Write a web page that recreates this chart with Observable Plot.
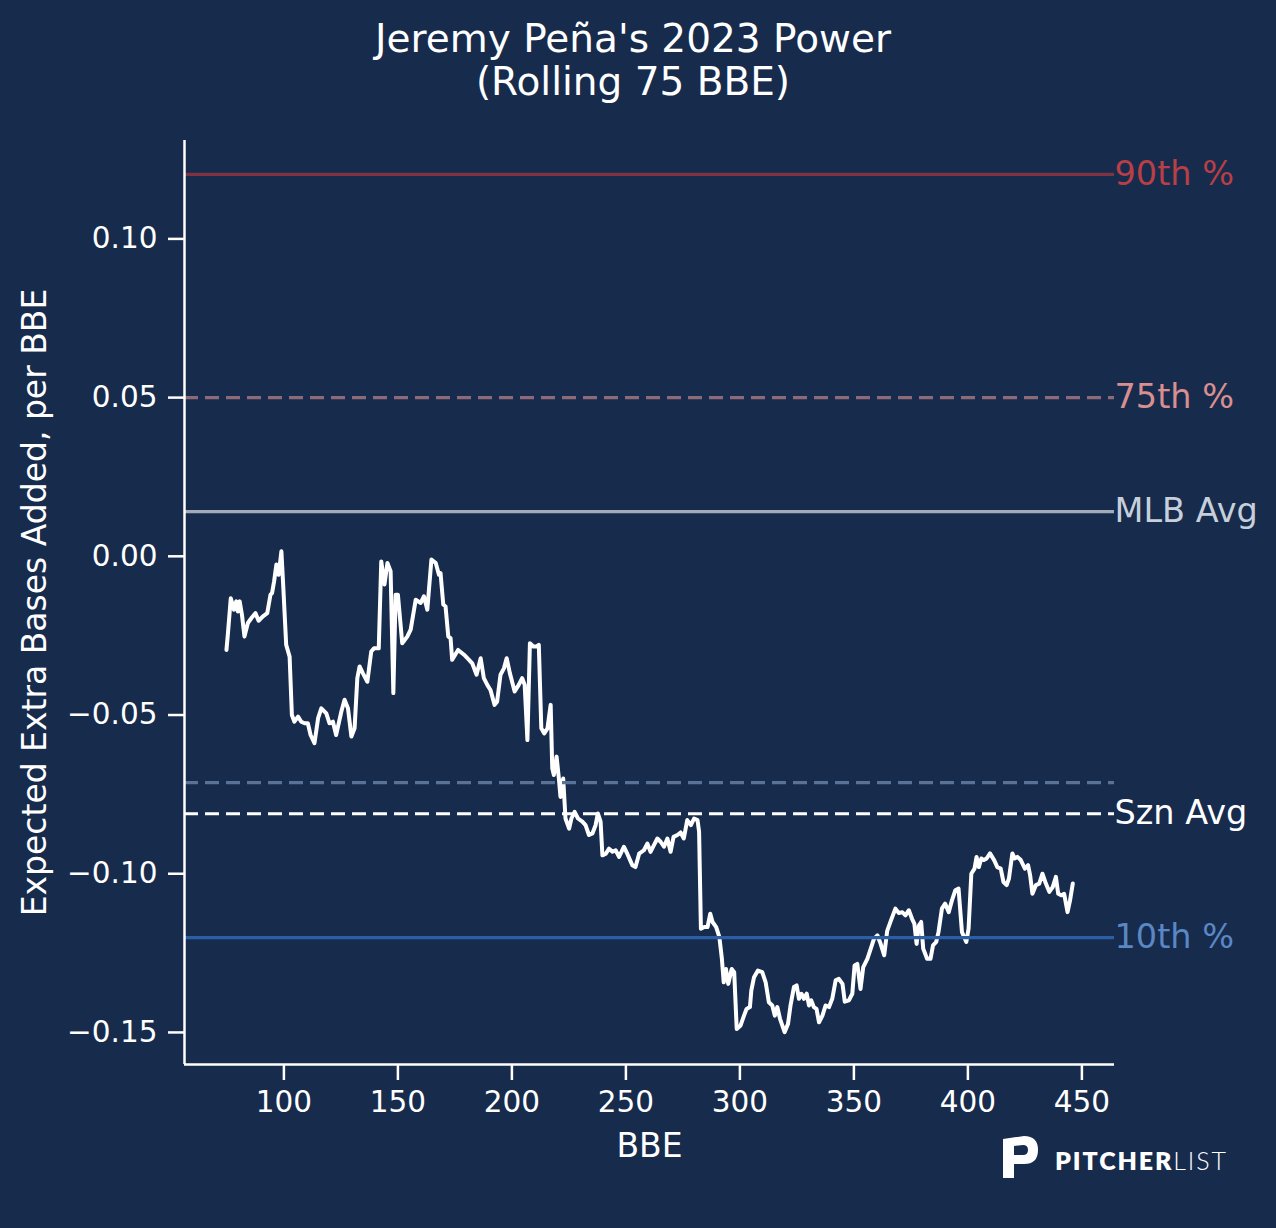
<!DOCTYPE html>
<html>
<head>
<meta charset="utf-8">
<script src="https://cdn.jsdelivr.net/npm/d3@7"></script>
<script src="https://cdn.jsdelivr.net/npm/@observablehq/plot@0.6"></script>
<style>
  html, body { margin: 0; padding: 0; background: #172B4D; }
  #wrap { position: relative; width: 1276px; height: 1228px; background: #172B4D; overflow: hidden; font-family: "DejaVu Sans", sans-serif; }
  #title { position: absolute; left: 0; top: 17px; width: 1266px; text-align: center; color: #ffffff; font-size: 39px; line-height: 43px; }
  #chart { position: absolute; left: 0; top: 0; }
  #logo { position: absolute; left: 1000px; top: 1134px; }
</style>
</head>
<body>
<div id="wrap">
  <div id="chart"></div>
  <div id="title">Jeremy Peña's 2023 Power<br>(Rolling 75 BBE)</div>
  <svg id="logo" width="240" height="50" viewBox="0 0 240 50">
    <path fill="#ffffff" fill-rule="evenodd" d="M3,5 L24,2 Q38,2 38,16 Q38,30 24,30 L14,30 L14,44 L3,44 Z M14,12 L23,11 Q28,11 28,16 Q28,21 23,21 L14,21 Z"/>
    <text x="55" y="36" fill="#ffffff" font-family="Lato, 'Open Sans', sans-serif" font-size="25" textLength="171" lengthAdjust="spacing"><tspan font-weight="800">PITCHER</tspan><tspan font-weight="300">LIST</tspan></text>
  </svg>
</div>
<script>
// ---- data ----
const bbe = [
  74.8, 75.4, 76.7, 78.1, 79.1, 79.8, 80.6, 81.6, 82.7, 84.2, 85.7, 87.5, 88.9, 90.8, 92.7, 94.1, 94.8, 95.7, 96.7, 97.7,
  98.9, 99.6, 101.0, 102.5, 103.5, 104.6, 106.2, 107.6, 109.1, 110.5, 111.7, 113.4, 115.0, 116.4, 118.6, 120.0, 121.5, 122.9, 125.2, 126.6,
  128.1, 129.6, 131.0, 132.2, 133.2, 134.6, 136.6, 138.3, 139.5, 141.6, 142.7, 144.1, 145.4, 146.8, 148.0, 149.0, 150.0, 151.9, 154.1, 155.6,
  157.8, 160.0, 161.4, 162.9, 164.7, 166.6, 168.0, 168.7, 169.9, 170.9, 172.1, 173.1, 173.8, 176.4, 179.0, 181.2, 182.6, 184.5, 186.3, 187.7,
  189.2, 190.6, 192.4, 193.5, 195.0, 196.5, 197.7, 199.1, 201.2, 203.0, 204.5, 205.6, 206.8, 207.9, 209.4, 210.8, 211.8, 212.9, 214.2, 215.6,
  217.0, 217.7, 218.4, 219.6, 220.6, 221.3, 222.5, 223.5, 225.1, 226.1, 227.5, 229.0, 230.9, 232.3, 233.8, 235.3, 236.7, 237.7, 238.9, 239.7,
  241.2, 242.6, 244.1, 245.5, 247.0, 249.1, 250.6, 252.8, 254.2, 255.8, 257.9, 259.4, 260.8, 262.3, 263.8, 265.3, 266.7, 268.2, 269.6, 270.9,
  272.6, 274.0, 275.4, 276.9, 278.5, 279.9, 281.4, 282.1, 282.9, 284.4, 285.8, 287.0, 288.0, 289.6, 291.0, 292.1, 292.9, 293.9, 294.9, 296.4,
  297.5, 298.6, 300.3, 301.8, 302.9, 304.4, 305.0, 306.2, 307.9, 309.8, 311.3, 312.7, 314.2, 315.3, 316.4, 317.6, 319.6, 321.1, 322.2, 323.7,
  324.9, 325.9, 327.0, 328.1, 329.3, 330.3, 331.3, 332.4, 333.6, 334.7, 336.2, 337.6, 339.1, 340.5, 342.0, 343.4, 345.0, 346.0, 347.8, 349.3,
  350.3, 351.5, 352.9, 354.1, 355.9, 357.4, 358.8, 360.3, 361.7, 363.3, 364.6, 366.1, 368.2, 369.7, 371.2, 372.6, 374.1, 375.5, 376.5, 377.5,
  378.5, 379.5, 380.4, 382.1, 383.6, 384.7, 386.1, 387.1, 388.6, 390.0, 391.6, 393.0, 394.5, 395.9, 397.4, 399.3, 400.3, 401.5, 402.9, 403.8,
  404.8, 405.9, 407.0, 408.2, 409.7, 411.5, 412.9, 414.4, 415.6, 417.0, 418.0, 419.5, 420.5, 421.7, 423.2, 425.0, 426.4, 427.3, 428.3, 429.8,
  431.3, 432.7, 434.2, 435.7, 437.2, 438.6, 439.6, 441.1, 442.2, 443.7, 444.8, 446.0
];
const xeba = [
  -0.0295, -0.0247, -0.0132, -0.0168, -0.0142, -0.0174, -0.0142, -0.0184, -0.0253, -0.0210, -0.0195, -0.0179, -0.0203, -0.0189, -0.0179, -0.0121, -0.0116, -0.0079, -0.0026, -0.0058,
  0.0016, -0.0079, -0.0279, -0.0316, -0.0500, -0.0521, -0.0505, -0.0521, -0.0526, -0.0526, -0.0563, -0.0589, -0.0510, -0.0479, -0.0495, -0.0526, -0.0521, -0.0563, -0.0489, -0.0452,
  -0.0479, -0.0568, -0.0542, -0.0384, -0.0347, -0.0368, -0.0395, -0.0300, -0.0290, -0.0290, -0.0016, -0.0089, -0.0021, -0.0047, -0.0431, -0.0121, -0.0121, -0.0274, -0.0253, -0.0231,
  -0.0137, -0.0147, -0.0126, -0.0168, -0.0010, -0.0021, -0.0058, -0.0053, -0.0152, -0.0158, -0.0253, -0.0258, -0.0326, -0.0295, -0.0310, -0.0326, -0.0337, -0.0373, -0.0321, -0.0384,
  -0.0405, -0.0421, -0.0468, -0.0458, -0.0373, -0.0353, -0.0321, -0.0368, -0.0426, -0.0405, -0.0384, -0.0405, -0.0579, -0.0274, -0.0284, -0.0284, -0.0279, -0.0542, -0.0558, -0.0542,
  -0.0468, -0.0668, -0.0689, -0.0631, -0.0700, -0.0758, -0.0700, -0.0826, -0.0858, -0.0826, -0.0805, -0.0826, -0.0836, -0.0847, -0.0878, -0.0873, -0.0847, -0.0810, -0.0836, -0.0942,
  -0.0937, -0.0921, -0.0931, -0.0926, -0.0947, -0.0915, -0.0937, -0.0973, -0.0979, -0.0937, -0.0926, -0.0905, -0.0931, -0.0910, -0.0889, -0.0900, -0.0915, -0.0889, -0.0931, -0.0884,
  -0.0878, -0.0870, -0.0889, -0.0831, -0.0847, -0.0826, -0.0831, -0.0868, -0.1173, -0.1168, -0.1168, -0.1126, -0.1152, -0.1168, -0.1200, -0.1268, -0.1342, -0.1300, -0.1347, -0.1300,
  -0.1310, -0.1489, -0.1478, -0.1447, -0.1426, -0.1420, -0.1368, -0.1326, -0.1305, -0.1310, -0.1342, -0.1405, -0.1415, -0.1447, -0.1420, -0.1457, -0.1499, -0.1473, -0.1415, -0.1357,
  -0.1352, -0.1394, -0.1378, -0.1394, -0.1378, -0.1415, -0.1399, -0.1420, -0.1426, -0.1468, -0.1447, -0.1415, -0.1420, -0.1394, -0.1336, -0.1331, -0.1347, -0.1403, -0.1399, -0.1378,
  -0.1289, -0.1284, -0.1363, -0.1294, -0.1268, -0.1236, -0.1205, -0.1194, -0.1220, -0.1257, -0.1180, -0.1150, -0.1110, -0.1124, -0.1121, -0.1131, -0.1115, -0.1142, -0.1157, -0.1221,
  -0.1163, -0.1152, -0.1236, -0.1268, -0.1268, -0.1226, -0.1215, -0.1184, -0.1110, -0.1094, -0.1121, -0.1084, -0.1052, -0.1047, -0.1184, -0.1215, -0.1173, -0.1000, -0.0984, -0.0947,
  -0.0979, -0.0952, -0.0957, -0.0952, -0.0936, -0.0957, -0.0979, -0.0984, -0.1026, -0.1036, -0.1015, -0.0936, -0.0952, -0.0947, -0.0957, -0.0984, -0.0973, -0.1005, -0.1063, -0.1036,
  -0.1031, -0.1000, -0.1031, -0.1057, -0.1042, -0.1010, -0.1063, -0.1068, -0.1063, -0.1121, -0.1084, -0.1031
];

const xTicks = [100, 150, 200, 250, 300, 350, 400, 450];
const yTicks = [0.10, 0.05, 0.00, -0.05, -0.10, -0.15];
const xDomain = [56.4, 464.3];
const yDomain = [-0.1601, 0.131];

const refLabels = ["90th %", "75th %", "MLB Avg", "", "Szn Avg", "10th %"];
const refValues = [0.1203, 0.0500, 0.0141, -0.0713, -0.0811, -0.1201];
const refLineColors = ["#7d3344", "#8c6a78", "#a3aab8", "#5a7296", "#ffffff", "#2c5ea6"];
const refTextColors = ["#b83f45", "#d98f8f", "#c7cfdb", "#5a7296", "#ffffff", "#5b87c5"];
const refDashed = [false, true, false, true, true, false];

const xLabel = "BBE";
const yLabel = "Expected Extra Bases Added, per BBE";

// ---- build ----
const series = bbe.map((b, i) => ({bbe: b, v: xeba[i]}));
const refs = refValues.map((v, i) => ({v, label: refLabels[i], line: refLineColors[i], text: refTextColors[i], dashed: refDashed[i]}));

const fmt = d3.format(".2f");

const marks = [
  Plot.line(series, {x: "bbe", y: "v", stroke: "#ffffff", strokeWidth: 4, strokeLinejoin: "round"}),
  ...refs.map(r => Plot.ruleY([r], {y: "v", stroke: r.line, strokeWidth: 3.2, strokeDasharray: r.dashed ? "14,7" : null})),
  ...refs.filter(r => r.label).map(r => Plot.text([r], {y: "v", text: "label", frameAnchor: "right", textAnchor: "start", dx: 0, fill: r.text, fontSize: 33.5})),
  Plot.ruleX([xDomain[0]], {stroke: "#ffffff", strokeWidth: 2.5}),
  Plot.ruleY([yDomain[0]], {stroke: "#ffffff", strokeWidth: 2.5}),
  Plot.axisX({ticks: xTicks, tickSize: 16, tickPadding: 11, tickFormat: d => String(d), label: null, fontSize: 29.5, strokeWidth: 2.5}),
  Plot.axisY({ticks: yTicks, tickSize: 16, tickPadding: 11, tickFormat: fmt, label: null, fontSize: 29.5, strokeWidth: 2.5}),
  Plot.text([xLabel], {text: d => d, frameAnchor: "bottom", textAnchor: "middle", dy: 82, lineAnchor: "middle", fontSize: 33, fill: "#ffffff"}),
  Plot.text([yLabel], {text: d => d, frameAnchor: "left", textAnchor: "middle", rotate: -90, dx: -149, lineAnchor: "middle", fontSize: 33, fill: "#ffffff"})
];

const chart = Plot.plot({
  width: 1276,
  height: 1228,
  marginTop: 140,
  marginBottom: 164,
  marginLeft: 184,
  marginRight: 162,
  x: {domain: xDomain},
  y: {domain: yDomain},
  style: {background: "#172B4D", color: "#ffffff", fontFamily: "DejaVu Sans, sans-serif", fontSize: "29.5px", overflow: "visible"},
  marks
});
document.getElementById("chart").appendChild(chart);
</script>
</body>
</html>
